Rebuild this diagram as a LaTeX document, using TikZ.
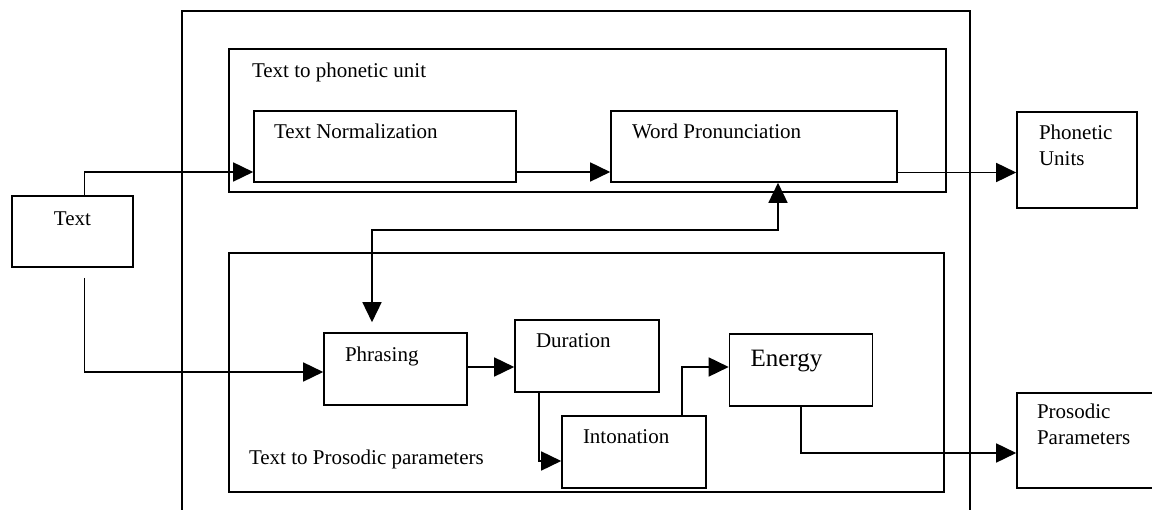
\documentclass[tikz,border=0pt]{standalone}
\usepackage{fontspec}
\setmainfont{Liberation Serif}
\usetikzlibrary{arrows.meta}
\usetikzlibrary{positioning}

\begin{document}
\begin{tikzpicture}[x=1pt, y=-1pt, line width=1.6pt,
  box/.style={draw, rectangle, inner sep=0pt},
  lbl/.style={anchor=base west, inner sep=0pt, align=left, font=\fontsize{21}{26}\selectfont},
  arr/.style={-{Triangle[length=20pt, width=19pt]}},
  dbl/.style={{Triangle[length=20pt, width=19pt]}-{Triangle[length=20pt, width=19pt]}}]
\useasboundingbox (0,0) rectangle (1152,510);
\clip (0,0) rectangle (1152,510);

% outer frame, open at the bottom
\draw (182,520) -- (182,11) -- (970,11) -- (970,520);

% the two groups
\node[box, minimum width=717pt, minimum height=143pt] (phon) at (587.5,120.5) {};
\node[box, minimum width=715pt, minimum height=239pt] (pros) at (586.5,372.5) {};

% boxes
\node[box, minimum width=121pt, minimum height=71pt] (text) at (72.5,231.5) {};
\node[box, minimum width=262pt, minimum height=71pt] (norm) at (385,146.5) {};
\node[box, minimum width=286pt, minimum height=71pt] (pron) at (754,146.5) {};
\node[box, minimum width=120pt, minimum height=96pt] (units) at (1077,160) {};
\node[box, minimum width=143pt, minimum height=72pt] (phr) at (395.5,369) {};
\node[box, minimum width=144pt, minimum height=72pt] (dur) at (587,356) {};
\node[box, minimum width=144pt, minimum height=72pt] (inton) at (634,452) {};
\node[box, minimum width=143pt, minimum height=72pt] (energy) at (801,370) {};
\node[box, minimum width=153pt, minimum height=95pt] (params) at (1093.5,440.5) {};

% texts (two-line ones sit on their last line)
\node[lbl] (phontxt) at ([shift={(23,29)}]phon.north west) {Text to phonetic unit};
\node[lbl] (prostxt) at ([shift={(20,-28)}]pros.south west) {Text to Prosodic parameters};
\node[lbl, anchor=base] (texttxt) at ([shift={(0,30)}]text.north) {Text};
\node[lbl] (normtxt) at ([shift={(20,28)}]norm.north west) {Text Normalization};
\node[lbl] (prontxt) at ([shift={(21,28)}]pron.north west) {Word Pronunciation};
\node[lbl] (unitstxt) at ([shift={(22,54)}]units.north west) {Phonetic\\Units};
\node[lbl] (phrtxt) at ([shift={(21,29)}]phr.north west) {Phrasing};
\node[lbl] (durtxt) at ([shift={(21,28)}]dur.north west) {Duration};
\node[lbl] (intontxt) at ([shift={(21,28)}]inton.north west) {Intonation};
\node[lbl, font=\fontsize{25}{30}\selectfont] (energytxt) at ([shift={(21,33)}]energy.north west) {Energy};
\node[lbl] (paramstxt) at ([shift={(20,52)}]params.north west) {Prosodic\\Parameters};

% connectors
\draw[arr] ([xshift=12pt]text.north) |- ([yshift=-25.5pt]norm.west);
\draw[arr] ([yshift=-25.5pt]norm.east) -- ([yshift=-25.5pt]pron.west);
\draw[arr] ([yshift=-26pt]pron.east) coordinate (pout) -- (pout -| units.west);
\draw[dbl] ([xshift=24pt]pron.south) -- ++(0,47) -| ([xshift=-23.5pt, yshift=10pt]phr.north);
\draw[arr] ([xshift=12pt, yshift=-10pt]text.south) |- ([yshift=-3pt]phr.west);
\draw[arr] ([yshift=2pt]phr.east) coordinate (phout) -- (phout -| dur.west);
\draw[arr] ([xshift=-48pt]dur.south) |- ([yshift=-9pt]inton.west);
\draw[arr] ([xshift=48pt]inton.north) |- ([yshift=3pt]energy.west);
\draw[arr] (energy.south) |- ([yshift=-12.5pt]params.west);
\end{tikzpicture}
\end{document}
